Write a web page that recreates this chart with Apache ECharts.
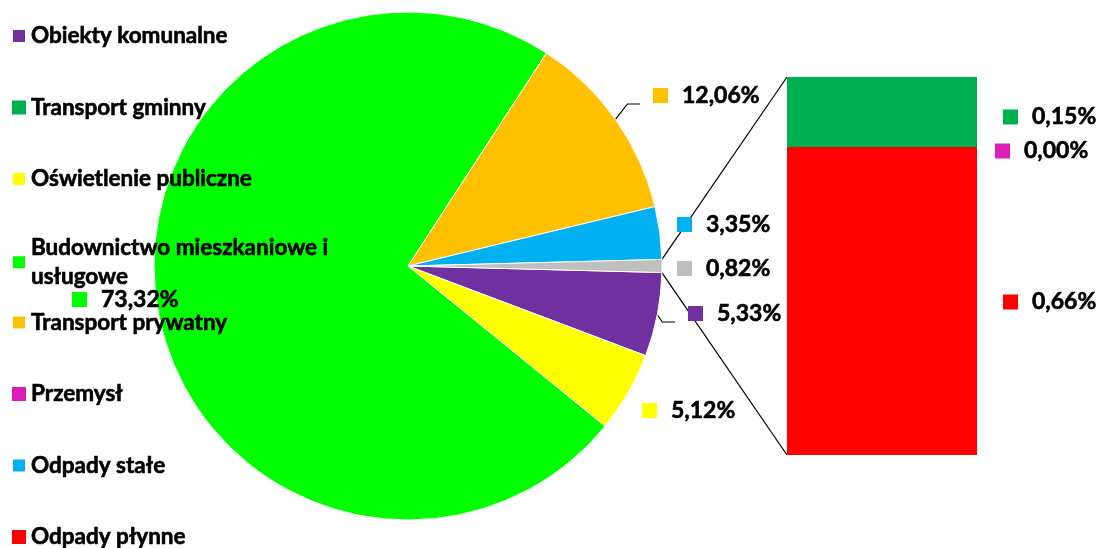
<!DOCTYPE html>
<html>
<head>
<meta charset="utf-8">
<script src="https://cdn.jsdelivr.net/npm/echarts@6/dist/echarts.min.js"></script>
<style>
html,body{margin:0;padding:0;background:#fff;}
#main{width:1102px;height:548px;}
</style>
</head>
<body>
<div id="main"></div>
<script>
// ---- data ----
const legendNames = ['Obiekty komunalne', 'Transport gminny', 'Oświetlenie publiczne', 'Budownictwo mieszkaniowe i usługowe', 'Transport prywatny', 'Przemysł', 'Odpady stałe', 'Odpady płynne'];
const pieNames = ['Obiekty komunalne', 'Oświetlenie publiczne', 'Budownictwo mieszkaniowe i usługowe', 'Transport prywatny', 'Odpady stałe', 'Pozostałe'];
const pieValues = [5.33, 5.12, 73.32, 12.06, 3.35, 0.82];
const barNames = ['Odpady płynne', 'Przemysł', 'Transport gminny'];
const barValues = [0.66, 0.00, 0.15];

// ---- styles ----
const colors = {
  'Obiekty komunalne': '#7030a0',
  'Transport gminny': '#00b050',
  'Oświetlenie publiczne': '#ffff00',
  'Budownictwo mieszkaniowe i usługowe': '#00ff00',
  'Transport prywatny': '#ffc000',
  'Przemysł': '#dc1cb8',
  'Odpady stałe': '#00b0f0',
  'Odpady płynne': '#ff0000',
  'Pozostałe': '#bfbfbf'
};
const FONT = 'Lato';
const FS = 23;
const STROKE = 0.6;
const PIE_CENTER = [408, 266];
const PIE_R = 254;
const GRID = { left: 787, top: 77, width: 190, height: 378 };
// label anchor (left edge of marker, vertical middle)
const pieLabelPos = {
  'Obiekty komunalne': [688, 313.5],
  'Oświetlenie publiczne': [642, 410.5],
  'Budownictwo mieszkaniowe i usługowe': [72, 299.5],
  'Transport prywatny': [653, 95.5],
  'Odpady stałe': [677, 224.5],
  'Pozostałe': [677, 268.5]
};
const pieLeader = { 'Transport prywatny': 12, 'Obiekty komunalne': 5 };
const barLabelStyle = {
  'Transport gminny': { distance: 26, offset: [0, 5] },
  'Przemysł': { distance: 18, offset: [0, 4] },
  'Odpady płynne': { distance: 26, offset: [0, 1] }
};

const fmt = v => v.toFixed(2).replace('.', ',') + '%';
const textTok = { fontFamily: FONT, fontWeight: 'bold', fontSize: FS, color: '#000', padding: [0, 0, 0, 14], textBorderColor: '#000', textBorderWidth: STROKE };

// pie geometry
const total = pieValues.reduce((a, b) => a + b, 0);
const otherIdx = pieNames.length - 1;
const otherSpan = pieValues[otherIdx] / total * 360;
const startAngle = -otherSpan / 2;
const midAngles = [];
{
  let a = startAngle;
  pieValues.forEach(v => {
    const span = v / total * 360;
    midAngles.push(a - span / 2);
    a -= span;
  });
}
const polar = (deg, r) => [PIE_CENTER[0] + r * Math.cos(deg * Math.PI / 180), PIE_CENTER[1] - r * Math.sin(deg * Math.PI / 180)];

const pieRich = { t: textTok };
pieNames.forEach((n, i) => { pieRich['m' + i] = { width: 15, height: 15, backgroundColor: colors[n] }; });

const chart = echarts.init(document.getElementById('main'), null, { renderer: 'canvas' });

const barSeries = barNames.map((n, i) => {
  const rich = { m: { width: 15, height: 15, backgroundColor: colors[n] }, t: textTok };
  return {
    name: n,
    type: 'bar',
    stack: 'other',
    barWidth: '100%',
    itemStyle: { color: colors[n] },
    data: [barValues[i]],
    animation: false,
    label: {
      show: true,
      position: 'right',
      distance: barLabelStyle[n].distance,
      offset: barLabelStyle[n].offset,
      formatter: p => '{m|}{t|' + fmt(p.value) + '}',
      rich: rich
    }
  };
});

const barTotal = barValues.reduce((a, b) => a + b, 0);

// connector lines from the "other" slice to the bar
const pTop = polar(otherSpan / 2, PIE_R);
const pBot = polar(-otherSpan / 2, PIE_R);

const legendBase = {
  orient: 'vertical',
  left: 11,
  padding: 0,
  height: 600,
  itemWidth: 14,
  itemHeight: 14,
  itemGap: 42.5,
  icon: 'rect',
  selectedMode: false,
  formatter: n => n.replace(' i usługowe', ' i\nusługowe'),
  textStyle: { fontFamily: FONT, fontWeight: 'bold', fontSize: 22.5, color: '#000', lineHeight: 29, height: 29, textBorderColor: '#000', textBorderWidth: STROKE }
};

const option = {
  animation: false,
  backgroundColor: '#fff',
  legend: [
    Object.assign({}, legendBase, { top: 21.5, data: legendNames.slice(0, 4) }),
    Object.assign({}, legendBase, { top: 308, data: legendNames.slice(4) })
  ],
  grid: { left: GRID.left, top: GRID.top, width: GRID.width, height: GRID.height, containLabel: false },
  xAxis: { type: 'category', data: [''], show: false },
  yAxis: { type: 'value', min: 0, max: barTotal, show: false },
  graphic: [
    { type: 'line', z: 1, shape: { x1: pTop[0], y1: pTop[1], x2: GRID.left, y2: GRID.top }, style: { stroke: '#000', lineWidth: 1.2 } },
    { type: 'line', z: 1, shape: { x1: pBot[0], y1: pBot[1], x2: GRID.left, y2: GRID.top + GRID.height }, style: { stroke: '#000', lineWidth: 1.2 } }
  ],
  series: [
    {
      type: 'pie',
      center: PIE_CENTER,
      radius: PIE_R,
      startAngle: startAngle,
      clockwise: true,
      avoidLabelOverlap: false,
      animation: false,
      itemStyle: { borderColor: '#fff', borderWidth: 1 },
      label: {
        show: true,
        position: 'outside',
        formatter: p => '{m' + p.dataIndex + '|}{t|' + fmt(p.value) + '}',
        rich: pieRich
      },
      labelLine: { show: false, lineStyle: { color: '#000', width: 1.2 }, length: 10, length2: 10 },
      labelLayout: function (params) {
        const n = pieNames[params.dataIndex];
        const pos = pieLabelPos[n];
        const res = { x: pos[0], y: pos[1], align: 'left', verticalAlign: 'middle' };
        if (pieLeader[n] != null) {
          const a = polar(midAngles[params.dataIndex], PIE_R);
          const ly = pos[1] + 8.5;
          res.labelLinePoints = [a, [a[0] + pieLeader[n], ly], [pos[0] - 13, ly]];
        }
        return res;
      },
      data: pieNames.map((n, i) => ({
        name: n,
        value: pieValues[i],
        itemStyle: { color: colors[n] },
        labelLine: { show: pieLeader[n] != null }
      }))
    }
  ].concat(barSeries)
};
chart.setOption(option);
</script>
</body>
</html>
